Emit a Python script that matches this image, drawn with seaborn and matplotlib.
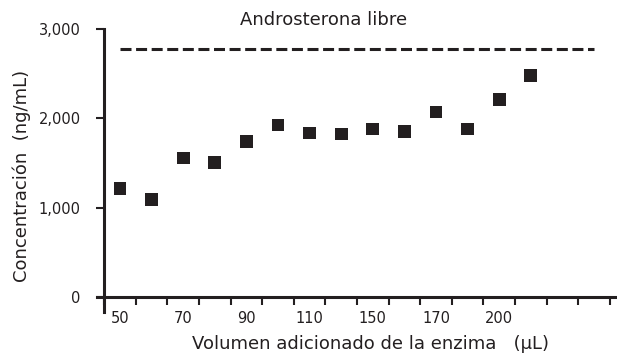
import numpy as np
import pandas as pd
import seaborn as sns
import matplotlib.pyplot as plt
from matplotlib.ticker import FixedLocator, StrMethodFormatter

# Datos
volumen_etiquetas = ['50', '70', '90', '110', '150', '170', '200']
concentracion = [1210, 1095, 1555, 1510, 1745, 1925, 1835,
                 1825, 1880, 1850, 2070, 1880, 2215, 2475]
androsterona_libre = 2780
n_divisiones = 16

color = '#231f20'

df = pd.DataFrame({'pos': np.arange(len(concentracion)), 'Concentracion': concentracion})

sns.set_style('ticks')
plt.rcParams['font.family'] = ['DejaVu Sans']

fig = plt.figure(figsize=(6.17, 3.56), dpi=100)
ax = fig.add_axes([97 / 617, 1 - 312 / 356, 520 / 617, 283 / 356])

sns.scatterplot(data=df, x='pos', y='Concentracion', marker='s', s=85,
                color=color, edgecolor='none', ax=ax, zorder=3)

# Línea de androsterona libre
ax.hlines(androsterona_libre, 0, n_divisiones - 1, colors=color, linewidth=2.2,
          linestyles=(0, (3.6, 1.5)))
ax.text(6.45, 3100, 'Androsterona libre', ha='center', va='center',
        fontsize=13, color=color, clip_on=False)

ax.set_xlim(-0.73, 15.73)
ax.set_ylim(-168, 3000)

for s in ['top', 'right']:
    ax.spines[s].set_visible(False)
ax.spines['left'].set_position(('data', -0.5))
ax.spines['bottom'].set_position(('data', 0))
for s in ['left', 'bottom']:
    ax.spines[s].set_linewidth(2.2)
    ax.spines[s].set_color(color)

ax.set_yticks([0, 1000, 2000, 3000])
ax.yaxis.set_major_formatter(StrMethodFormatter('{x:,.0f}'))
ax.tick_params(axis='y', direction='out', length=6, width=1.5, color=color,
               pad=11, labelsize=10.5, labelcolor=color)

ax.xaxis.set_major_locator(FixedLocator(np.arange(n_divisiones + 1) - 0.5))
ax.xaxis.set_minor_locator(FixedLocator(np.arange(len(volumen_etiquetas)) * 2))
ax.set_xticklabels([], minor=False)
ax.set_xticklabels(volumen_etiquetas, minor=True)
ax.tick_params(axis='x', which='major', direction='out', length=6, width=1.5, color=color)
ax.tick_params(axis='x', which='minor', length=0, pad=10, labelsize=10.5, labelcolor=color)

ax.set_xlabel('Volumen adicionado de la enzima   (μL)', fontsize=13, color=color)
ax.set_ylabel('Concentración  (ng/mL)', fontsize=13, color=color)
ax.xaxis.set_label_coords(0.525, -0.08)
ax.yaxis.set_label_coords(-0.127, 0.48)

fig.savefig('out.png', dpi=100)
